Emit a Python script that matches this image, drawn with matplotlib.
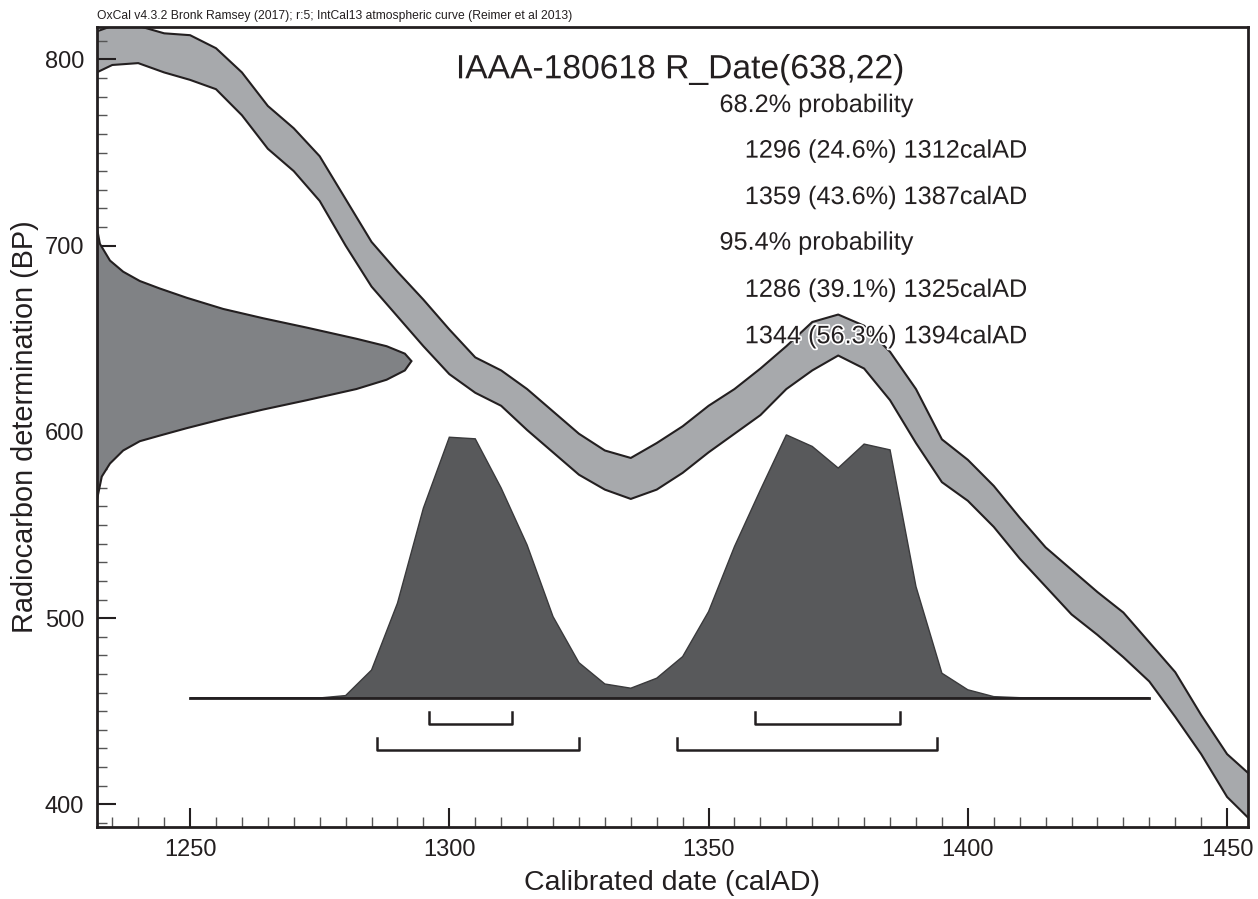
import matplotlib
matplotlib.use("Agg")
import matplotlib.pyplot as plt
import matplotlib.patheffects as pe
from matplotlib.ticker import MultipleLocator

plt.rcParams['font.family'] = ['Liberation Sans', 'DejaVu Sans']

# IntCal13 band (calAD, upper / lower BP)
cal_years = [1232, 1235, 1240, 1245, 1250, 1255, 1260, 1265, 1270, 1275, 1280, 1285,
             1290, 1295, 1300, 1305, 1310, 1315, 1320, 1325, 1330, 1335, 1340, 1345,
             1350, 1355, 1360, 1365, 1370, 1375, 1380, 1385, 1390, 1395, 1400, 1405,
             1410, 1415, 1420, 1425, 1430, 1435, 1440, 1445, 1450, 1454]
cal_upper = [815, 818, 818, 814, 813, 806, 793, 775, 763, 748, 725, 702,
             686, 671, 655, 640, 633, 623, 611, 599, 590, 586, 594, 603,
             614, 623, 634, 646, 659, 663, 657, 643, 623, 596, 585, 571,
             554, 538, 526, 514, 503, 487, 471, 448, 427, 417]
cal_lower = [793, 797, 798, 793, 789, 784, 770, 752, 740, 724, 700, 678,
             662, 646, 631, 621, 614, 601, 589, 577, 569, 564, 569, 578,
             589, 599, 609, 623, 633, 641, 634, 617, 594, 573, 563, 549,
             532, 517, 502, 491, 479, 466, 447, 427, 404, 393]

# radiocarbon date R_Date(638,22), relative probability
r_bp = [710, 701, 692, 686, 681, 677, 672, 666, 661, 656, 650, 646, 642, 638,
        633, 628, 623, 617, 612, 607, 602, 598, 595, 590, 583, 576, 563]
r_prob = [0, 0.01, 0.042, 0.084, 0.137, 0.2, 0.286, 0.402, 0.529, 0.667, 0.825, 0.921, 0.979, 1.0,
          0.979, 0.921, 0.825, 0.667, 0.529, 0.402, 0.286, 0.2, 0.137, 0.084, 0.042, 0.016, 0]

# calibrated distribution, relative probability
d_years = [1250, 1275, 1280, 1285, 1290, 1295, 1300, 1305, 1310, 1315, 1320, 1325, 1330,
           1335, 1340, 1345, 1350, 1355, 1360, 1365, 1370, 1375, 1380, 1385, 1390,
           1395, 1400, 1405, 1410, 1435]
d_prob = [0, 0.001, 0.01, 0.107, 0.361, 0.722, 0.991, 0.985, 0.798, 0.582, 0.31, 0.135, 0.054,
          0.038, 0.076, 0.158, 0.329, 0.576, 0.791, 1.0, 0.956, 0.874, 0.965, 0.943, 0.424,
          0.095, 0.032, 0.006, 0.002, 0]

range68 = [(1296, 1312), (1359, 1387)]
range95 = [(1286, 1325), (1344, 1394)]

texts = ["68.2% probability",
         "1296 (24.6%) 1312calAD",
         "1359 (43.6%) 1387calAD",
         "95.4% probability",
         "1286 (39.1%) 1325calAD",
         "1344 (56.3%) 1394calAD"]

XMIN, XMAX = 1232, 1454
base = 457
dscale = 141.4
rscale = 60.7

fig = plt.figure(figsize=(12.58, 8.99), dpi=100)
ax = fig.add_axes([0.0769, 0.0804, 0.915, 0.89])

# calibration band
ax.fill_between(cal_years, cal_lower, cal_upper, facecolor='#a7a9ac', edgecolor='none', zorder=1)
ax.plot(cal_years, cal_upper, color='#231f20', lw=1.5, zorder=2)
ax.plot(cal_years, cal_lower, color='#231f20', lw=1.5, zorder=2)

# radiocarbon date on y axis
rx = [XMIN + p * rscale for p in r_prob]
ax.fill(rx, r_bp, facecolor='#808285', edgecolor='#231f20', lw=1.5, zorder=3)

# calibrated date
dy = [base + p * dscale for p in d_prob]
ax.fill(d_years, dy, facecolor='#58595b', edgecolor='#3a3a3c', lw=1, zorder=3)
ax.plot([d_years[0], d_years[-1]], [base, base], color='#231f20', lw=2, zorder=4)

# range brackets
for a, b in range68:
    ax.plot([a, a, b, b], [449.4, 443, 443, 449.4], color='#231f20', lw=1.8, zorder=4)
for a, b in range95:
    ax.plot([a, a, b, b], [435.8, 429.3, 429.3, 435.8], color='#231f20', lw=1.8, zorder=4)

ax.set_xlim(XMIN, XMAX)
ax.set_ylim(388, 817.6)

ax.xaxis.set_major_locator(MultipleLocator(50))
ax.xaxis.set_minor_locator(MultipleLocator(5))
ax.yaxis.set_major_locator(MultipleLocator(100))
ax.yaxis.set_minor_locator(MultipleLocator(10))
ax.tick_params(which='both', direction='in', top=False, right=False, colors='#231f20',
               labelsize=17)
ax.tick_params(which='major', length=14, width=1.5, pad=9)
ax.tick_params(which='minor', length=7, width=1, color='#555555')
for s in ax.spines.values():
    s.set_linewidth(2)
    s.set_color('#231f20')
    s.set_zorder(6)

ax.set_xlabel("Calibrated date (calAD)", fontsize=20.5, color='#231f20', labelpad=6)
ax.set_ylabel("Radiocarbon determination (BP)", fontsize=20.8, color='#231f20', labelpad=4)

fig.text(0.0769, 0.976, "OxCal v4.3.2 Bronk Ramsey (2017); r:5; IntCal13 atmospheric curve (Reimer et al 2013)",
         fontsize=8.7, color='#231f20', va='bottom', ha='left')

halo = [pe.withStroke(linewidth=2.5, foreground='white')]
ax.text(0.312, 0.946, "IAAA-180618 R_Date(638,22)", transform=ax.transAxes, fontsize=24.2,
        color='#231f20', va='center', ha='left', zorder=7, path_effects=halo)
ys = [0.902, 0.845, 0.787, 0.730, 0.671, 0.613]
xs = [0.541, 0.563, 0.563, 0.541, 0.563, 0.563]
for t, xx, yy in zip(texts, xs, ys):
    ax.text(xx, yy, t, transform=ax.transAxes, fontsize=18.2, color='#231f20',
            va='center', ha='left', zorder=7, path_effects=halo)

fig.savefig("out.png", dpi=100)
